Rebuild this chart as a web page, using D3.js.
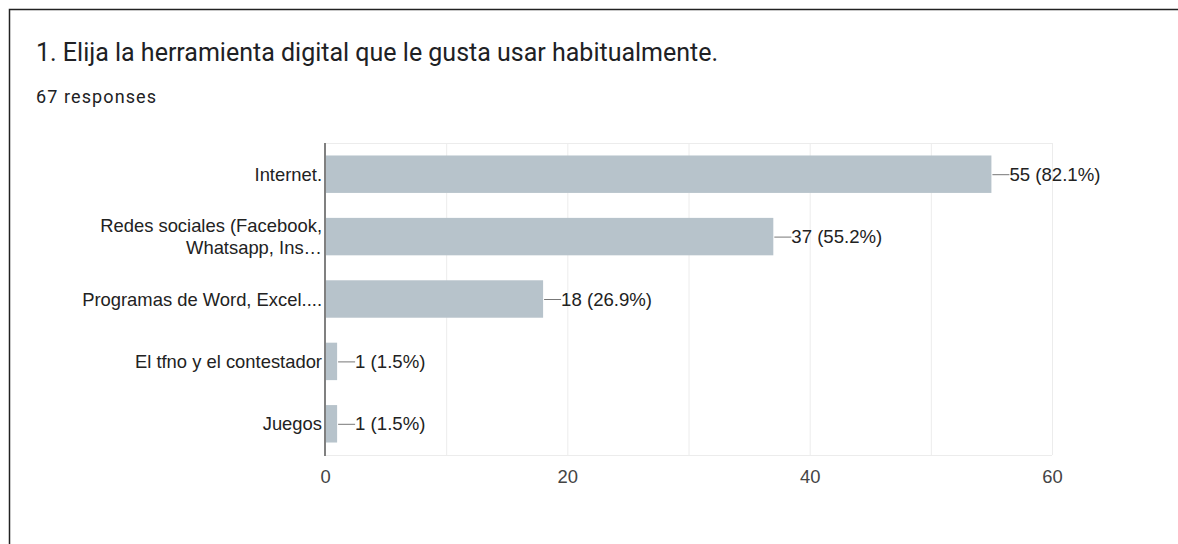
<!DOCTYPE html>
<html><head><meta charset="utf-8">
<script src="https://cdn.jsdelivr.net/npm/d3@7"></script>
<style>
html,body{margin:0;padding:0;background:#fff;}
svg{display:block;}
</style></head>
<body>
<svg id="chart" width="1178" height="544"></svg>
<script>
const title = "1. Elija la herramienta digital que le gusta usar habitualmente.";
const subtitle = "67 responses";
const categories = [
  ["Internet."],
  ["Redes sociales (Facebook,", "Whatsapp, Ins\u2026"],
  ["Programas de Word, Excel...."],
  ["El tfno y el contestador"],
  ["Juegos"]
];
const counts = [55, 37, 18, 1, 1];
const percents = ["82.1%", "55.2%", "26.9%", "1.5%", "1.5%"];
const xTicks = [0, 20, 40, 60];
const gridTicks = [10, 20, 30, 40, 50, 60];

(function () {
const svg = d3.select("#chart");
const LF = "'Liberation Sans', Arial, sans-serif";
const FS = 18.4;
svg.append("rect").attr("x", 9.5).attr("y", 9.5).attr("width", 1200).attr("height", 600)
  .attr("fill", "none").attr("stroke", "#222").attr("stroke-width", 1.5);

svg.append("text").attr("x", 36).attr("y", 61).text(title)
  .attr("font-family", "Roboto, Arial, sans-serif").attr("font-size", 25).attr("fill", "#202124");
svg.append("text").attr("x", 36).attr("y", 103).text(subtitle)
  .attr("font-family", "Roboto, Arial, sans-serif").attr("font-size", 18).attr("letter-spacing", 1.1).attr("fill", "#202124");

const pl = 325, pr = 1052, pt = 143, pb = 455;
const x = d3.scaleLinear().domain([0, 60]).range([pl, pr]);
const y = d3.scaleBand().domain(d3.range(categories.length)).range([pt, pb]).paddingInner(0.4).paddingOuter(0.2);

const g = svg.append("g");
g.selectAll("line.grid").data(gridTicks).join("line")
  .attr("x1", d => x(d) + 0.5).attr("x2", d => x(d) + 0.5)
  .attr("y1", pt).attr("y2", pb).attr("stroke", "#ececec").attr("stroke-width", 1);
g.append("line").attr("x1", pl).attr("x2", pr).attr("y1", pt + 0.5).attr("y2", pt + 0.5)
  .attr("stroke", "#ececec");
g.append("line").attr("x1", pl).attr("x2", pr).attr("y1", pb + 0.5).attr("y2", pb + 0.5)
  .attr("stroke", "#ececec");

g.selectAll("rect.bar").data(counts).join("rect")
  .attr("x", x(0)).attr("y", (d, i) => y(i))
  .attr("width", d => x(d) - x(0)).attr("height", y.bandwidth())
  .attr("fill", "#b7c3cb");

g.selectAll("line.lead").data(counts).join("line")
  .attr("x1", d => x(d) + 1).attr("x2", d => x(d) + 18)
  .attr("y1", (d, i) => y(i) + y.bandwidth() / 2 + 0.5)
  .attr("y2", (d, i) => y(i) + y.bandwidth() / 2 + 0.5)
  .attr("stroke", "#777").attr("stroke-width", 1);
g.selectAll("text.val").data(counts).join("text")
  .attr("x", d => x(d) + 18).attr("y", (d, i) => y(i) + y.bandwidth() / 2 + 6.5)
  .text((d, i) => `${d} (${percents[i]})`)
  .attr("font-family", LF).attr("font-size", 18.6).attr("fill", "#222");

categories.forEach((lines, i) => {
  const cy = y(i) + y.bandwidth() / 2;
  const lh = 22.5;
  const t = g.append("text").attr("text-anchor", "end")
    .attr("font-family", LF).attr("font-size", FS).attr("fill", "#222");
  lines.forEach((ln, j) => {
    t.append("tspan").attr("x", pl - 3)
      .attr("y", cy + 6.5 + (j - (lines.length - 1) / 2) * lh).text(ln);
  });
});

g.append("line").attr("x1", x(0)).attr("x2", x(0)).attr("y1", pt).attr("y2", pb + 1)
  .attr("stroke", "#808080").attr("stroke-width", 2);

const xAxis = d3.axisBottom(x).tickValues(xTicks).tickSize(0).tickPadding(0);
const ax = svg.append("g").attr("transform", `translate(0,${pb + 28})`).call(xAxis);
ax.select(".domain").remove();
ax.selectAll("text").attr("font-family", LF)
  .attr("font-size", FS).attr("fill", "#444").attr("dy", 0);
})();
</script>
</body></html>
